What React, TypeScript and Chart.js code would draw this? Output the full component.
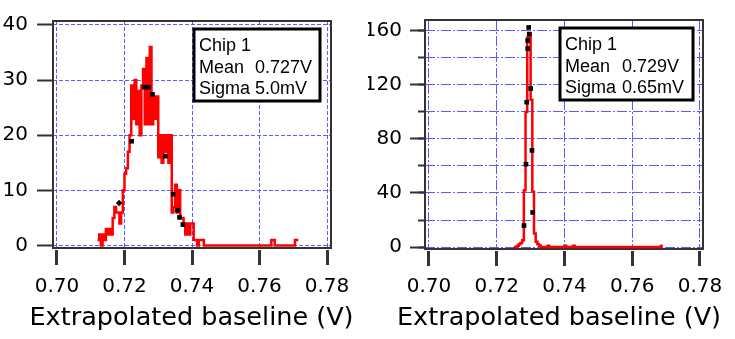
import React, { useEffect, useRef } from 'react';
import { Chart, registerables } from 'chart.js';

Chart.register(...registerables);

// ---------------- data ----------------
const xTickValues = [0.7, 0.72, 0.74, 0.76, 0.78];
const leftYTickValues = [0, 10, 20, 30, 40];
const rightYTickValues = [0, 20, 40, 60, 80, 100, 120, 140, 160];
const rightYLabelValues = [0, 40, 80, 120, 160];

const xTitle = 'Extrapolated baseline (V)';

// Left panel histogram (bin start, bin width, counts per bin)
const leftBinStart = 0.712;
const leftBinWidth = 0.0005;
const leftCounts = [
  1, 2, 0, 2, 1, 3, 2, 3, 2, 5,
  7, 6, 6, 4, 6, 10, 13, 14, 17, 20,
  29, 23, 30, 22, 28, 20, 29, 32, 22, 34,
  22, 36, 22, 27, 23, 27, 16, 20, 15, 20,
  17, 20, 15, 20, 6, 7, 11, 6, 10, 5,
  5, 4, 2, 4, 2, 4, 4, 1, 1, 0,
  1, 1, 1, 0, 0, 0, 0, 0, 0, 0,
  0, 0, 0, 0, 0, 0, 0, 0, 0, 0,
  0, 0, 0, 0, 0, 0, 0, 0, 0, 0,
  0, 0, 0, 0, 0, 0, 0, 0, 0, 0,
  0, 0, 0, 1, 1, 0, 0, 0, 0, 0,
  0, 0, 0, 0, 0, 0, 0, 1, 1,
];
const leftMarkerX = [0.7184, 0.7221, 0.7259, 0.7271, 0.7283, 0.7321, 0.7344, 0.7357, 0.7363, 0.7373];
const leftMarkerY = [7.7, 18.9, 28.7, 28.7, 27.4, 16.2, 9.3, 6.4, 5.1, 3.8];

// Right panel histogram
const rightBinStart = 0.725;
const rightBinWidth = 0.0005;
const rightCounts = [
  0, 0, 1, 2, 3, 5, 42, 100, 155, 158,
  109, 41, 10, 4, 2, 1, 0, 0, 0, 0,
  1, 0, 0, 0, 0, 0, 0, 0, 0, 0,
  1, 0, 0, 0, 0, 1, 0, 0, 0, 0,
  0, 0, 0, 0, 0, 0, 0, 0, 0, 0,
  0, 0, 0, 0, 0, 0, 0, 0, 0, 0,
  0, 0, 0, 0, 0, 0, 0, 0, 0, 0,
  0, 0, 0, 0, 0, 0, 0, 0, 0, 0,
  0, 0, 0, 0, 0, 0, 0, 1,
];
const rightMarkerX = [0.72804, 0.72863, 0.72884, 0.72914, 0.72914, 0.72943, 0.72961, 0.73002, 0.7304, 0.73061];
const rightMarkerY = [15.9, 61.3, 107.2, 146.8, 152.8, 162.5, 157.6, 117.3, 71.5, 25.6];

const leftLegendRows = [['Chip 1', ''], ['Mean', '0.727V'], ['Sigma', '5.0mV']];
const rightLegendRows = [['Chip 1', ''], ['Mean', '0.729V'], ['Sigma', '0.65mV']];

// ---------------- styles ----------------
const GRID = '#5b5bff';
const AXIS = '#333333';
const RED = '#ff0000';
const DEJAVU = '"DejaVu Sans", Verdana, sans-serif';
const TICK_FONT = { family: DEJAVU, size: 20 };
const TITLE_FONT_STRING = '25.5px "DejaVu Sans", Verdana, sans-serif';

function histPoints(start: number, width: number, counts: number[]) {
  const pts = counts.map((c, i) => ({ x: +(start + i * width).toFixed(5), y: c }));
  pts.push({ x: +(start + counts.length * width).toFixed(5), y: counts[counts.length - 1] });
  return pts;
}

function markerPoints(xs: number[], ys: number[]) {
  return xs.map((x, i) => ({ x, y: ys[i] }));
}

function framePlugin(legend: any, titleX: number, titleBaseline: number) {
  return {
    id: 'frameAndLegend',
    beforeDatasetsDraw(chart: any) {
      const { ctx, chartArea: a } = chart;
      ctx.save();
      ctx.strokeStyle = AXIS;
      ctx.lineWidth = 2;
      ctx.strokeRect(a.left, a.top, a.right - a.left, a.bottom - a.top);
      ctx.restore();
    },
    afterDraw(chart: any) {
      const { ctx, chartArea: a } = chart;
      ctx.save();
      // x-axis title (drawn without width compression)
      ctx.fillStyle = '#000000';
      ctx.font = TITLE_FONT_STRING;
      ctx.textAlign = 'center';
      ctx.textBaseline = 'alphabetic';
      ctx.fillText(xTitle, titleX, titleBaseline);
      // legend box
      const bx = a.right - legend.right - legend.width;
      const by = a.top + legend.top;
      ctx.fillStyle = '#ffffff';
      ctx.fillRect(bx, by, legend.width, legend.height);
      ctx.strokeStyle = '#000000';
      ctx.lineWidth = 3;
      ctx.strokeRect(bx, by, legend.width, legend.height);
      ctx.fillStyle = '#000000';
      ctx.font = '18px "Liberation Sans", Arial, sans-serif';
      ctx.textAlign = 'left';
      legend.rows.forEach((row: string[], i: number) => {
        const y = by + legend.firstBaseline + i * legend.lineGap;
        ctx.fillText(row[0], bx + legend.labelX, y);
        if (row[1]) ctx.fillText(row[1], bx + legend.valueX, y);
      });
      ctx.restore();
    },
  };
}

function makeConfig(s: any): any {
  const scales: any = {
    x: {
      type: 'linear',
      position: 'bottom',
      min: s.xMin,
      max: s.xMax,
      afterBuildTicks: (sc: any) => { sc.ticks = xTickValues.map((value) => ({ value })); },
      afterFit: (sc: any) => { sc.height = s.xAxisHeight; },
      grid: {
        color: GRID, lineWidth: 1, drawTicks: true, tickLength: 17,
        tickColor: AXIS, tickWidth: 3, tickBorderDash: [0, 2, 20, 0],
      },
      border: { display: false, dash: s.dash },
      ticks: {
        color: '#000', font: TICK_FONT, padding: s.xLabelPad, maxRotation: 0, minRotation: 0,
        autoSkip: false, callback: (v: any) => Number(v).toFixed(2),
      },
      title: { display: false },
    },
    y: {
      type: 'linear',
      position: 'left',
      weight: 1,
      min: s.yMin,
      max: s.yMax,
      afterBuildTicks: (sc: any) => { sc.ticks = s.yTicks.map((value: number) => ({ value })); },
      afterFit: (sc: any) => { sc.width = s.yAxisWidth; },
      grid: {
        color: GRID, lineWidth: 1, drawTicks: true, tickLength: s.yTickLength,
        tickColor: (ctx: any) => (ctx.tick && s.yLabels.includes(ctx.tick.value) ? AXIS : 'rgba(0,0,0,0)'),
        tickWidth: 2,
      },
      border: { display: false, dash: s.dash },
      ticks: {
        color: '#000', font: TICK_FONT, padding: s.yLabelPad, autoSkip: false,
        callback: (v: any) => (s.yLabels.includes(Number(v)) ? String(v) : ''),
      },
    },
  };
  if (s.minorTicks) {
    scales.yMinor = {
      type: 'linear',
      position: 'left',
      weight: 0,
      min: s.yMin,
      max: s.yMax,
      afterBuildTicks: (sc: any) => { sc.ticks = s.yTicks.map((value: number) => ({ value })); },
      afterFit: (sc: any) => { sc.width = 0; },
      grid: { drawOnChartArea: false, drawTicks: true, tickLength: 7, tickColor: AXIS, tickWidth: 2, color: AXIS },
      border: { display: false },
      ticks: { display: false },
    };
  }
  return {
    type: 'scatter',
    data: {
      datasets: [
        {
          label: 'markers',
          data: s.markers,
          showLine: false,
          pointStyle: s.markerStyle,
          pointRadius: 3.3,
          pointBackgroundColor: '#000',
          pointBorderColor: '#000',
          pointBorderWidth: 0,
          yAxisID: 'y',
        },
        {
          label: 'histogram',
          data: s.hist,
          showLine: true,
          stepped: true,
          borderColor: RED,
          borderWidth: 2.5,
          pointRadius: 0,
          fill: false,
          yAxisID: 'y',
        },
      ],
    },
    options: {
      responsive: false,
      animation: false,
      events: [],
      devicePixelRatio: 1,
      font: { family: DEJAVU },
      layout: { padding: { top: 15, right: s.padRight, left: 0, bottom: 0 } },
      plugins: { legend: { display: false }, tooltip: { enabled: false } },
      scales,
    },
    plugins: [framePlugin(s.legend, s.titleX, 325)],
  };
}

const leftSpec = {
  xMin: 0.69882, xMax: 0.78118,
  yMin: -0.45, yMax: 40.7,
  yTicks: leftYTickValues, yLabels: leftYTickValues,
  yAxisWidth: 53, yTickLength: 16, yLabelPad: 9, xLabelPad: 10,
  xAxisHeight: 91, padRight: 37,
  dash: [4, 2],
  minorTicks: false,
  titleX: 191.5,
  hist: histPoints(leftBinStart, leftBinWidth, leftCounts),
  markers: markerPoints(leftMarkerX, leftMarkerY),
  markerStyle: (ctx: any) => (ctx.dataIndex === 0 ? 'rectRot' : 'rect'),
  legend: { rows: leftLegendRows, right: 11, top: 8, width: 126, height: 72, labelX: 5, valueX: 61, firstBaseline: 22, lineGap: 21.5 },
};

const rightSpec = {
  xMin: 0.69882, xMax: 0.78089,
  yMin: -1.45, yMax: 168,
  yTicks: rightYTickValues, yLabels: rightYLabelValues,
  yAxisWidth: 57, yTickLength: 15, yLabelPad: 8, xLabelPad: 9,
  xAxisHeight: 90, padRight: 32,
  dash: [10, 2, 2, 2],
  minorTicks: true,
  titleX: 191,
  hist: histPoints(rightBinStart, rightBinWidth, rightCounts),
  markers: markerPoints(rightMarkerX, rightMarkerY),
  markerStyle: 'rect',
  legend: { rows: rightLegendRows, right: 10, top: 8, width: 133, height: 72, labelX: 5, valueX: 62, firstBaseline: 22, lineGap: 21.5 },
};

export default function App() {
  const leftRef = useRef<HTMLCanvasElement>(null);
  const rightRef = useRef<HTMLCanvasElement>(null);

  useEffect(() => {
    const c1 = new Chart(leftRef.current as HTMLCanvasElement, makeConfig(leftSpec));
    const c2 = new Chart(rightRef.current as HTMLCanvasElement, makeConfig(rightSpec));
    return () => {
      c1.destroy();
      c2.destroy();
    };
  }, []);

  return (
    <div style={{ position: 'absolute', left: 0, top: 0, width: 735, height: 339, background: '#ffffff', overflow: 'hidden' }}>
      <canvas ref={leftRef} width={368} height={339} style={{ position: 'absolute', left: 0, top: 0, width: 368, height: 339 }} />
      <canvas ref={rightRef} width={367} height={339} style={{ position: 'absolute', left: 368, top: 0, width: 367, height: 339 }} />
    </div>
  );
}
